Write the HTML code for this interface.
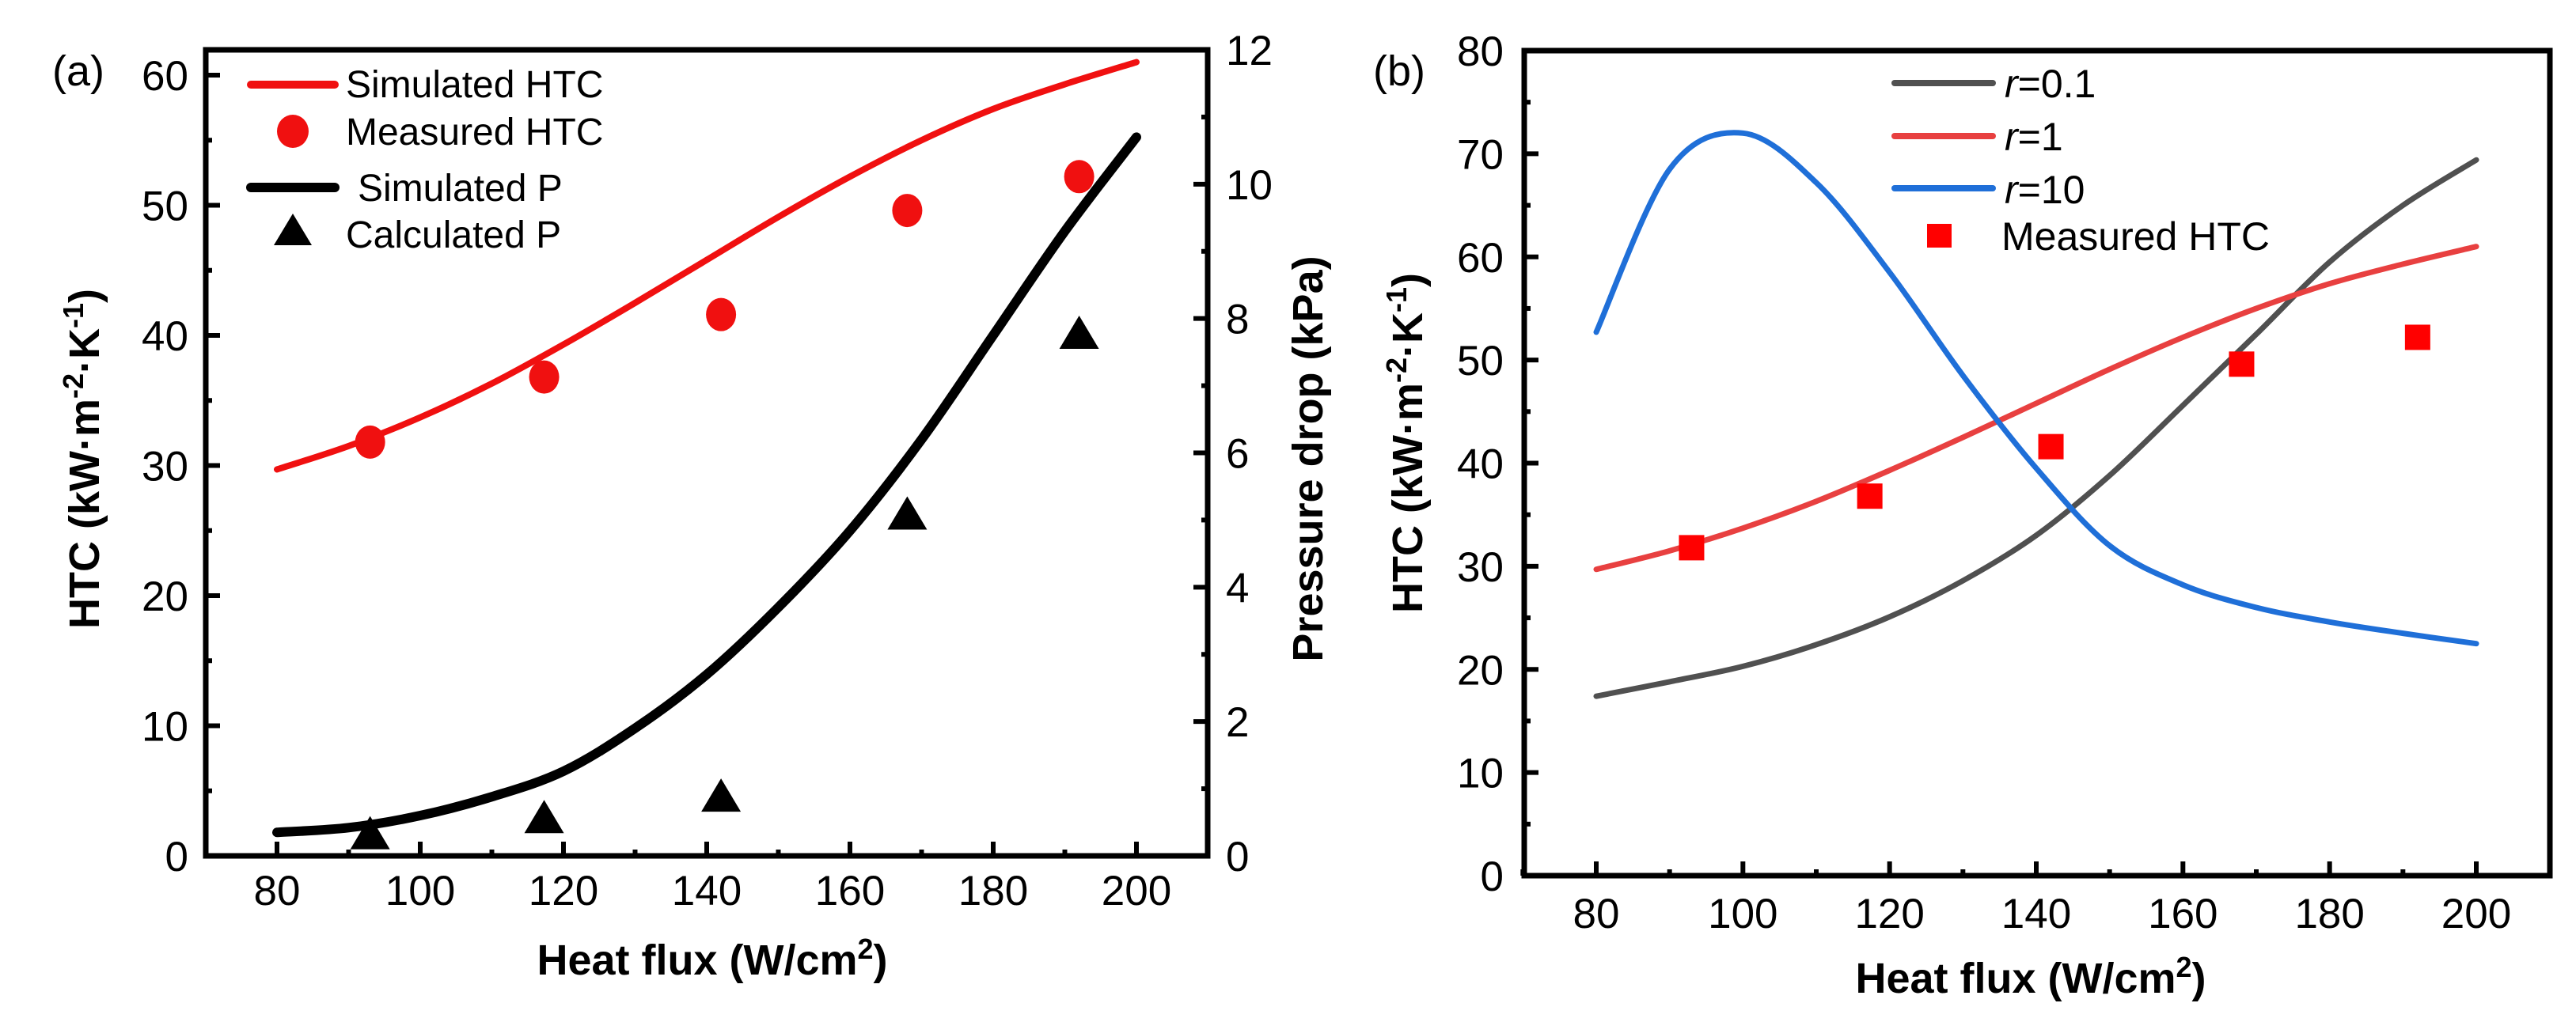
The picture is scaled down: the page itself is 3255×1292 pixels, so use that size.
<!DOCTYPE html>
<html><head><meta charset="utf-8"><style>
html,body{margin:0;padding:0;background:#fff;}
svg{display:block;font-family:"Liberation Sans",Arial,sans-serif;}
</style></head><body>
<svg id="chart" width="3255" height="1292" viewBox="0 0 3255 1292" xmlns="http://www.w3.org/2000/svg">
<g id="pa"></g>
<g id="pb"></g>
</svg>
<script>
// ---- data ----
const xTicks = [80,100,120,140,160,180,200];
const htcTicksA = [0,10,20,30,40,50,60];
const pTicks = [0,2,4,6,8,10,12];
const htcTicksB = [0,10,20,30,40,50,60,70,80];
const lineX = [80,90,100,110,120,130,140,150,160,170,180,190,200];
const simHTC = [29.7,31.5,33.7,36.3,39.3,42.5,45.8,49.1,52.2,55,57.4,59.3,61];
const simP = [0.35,0.42,0.6,0.88,1.26,1.9,2.7,3.7,4.84,6.2,7.75,9.3,10.7];
const measX = [93,117.3,142,168,192];
const measHTC = [31.8,36.8,41.6,49.6,52.2];
const calcP = [0.31,0.55,0.87,5.07,7.76];
const r01 = [17.4,18.8,20.3,22.4,25.1,28.6,33,38.8,45.6,52.5,59.5,65,69.4];
const r10 = [52.7,68.5,72,67.2,58.5,48.5,39.5,32,28.2,26,24.6,23.5,22.5];

const NS="http://www.w3.org/2000/svg";
function el(parent,tag,attrs,text){const e=document.createElementNS(NS,tag);for(const k in attrs)e.setAttribute(k,attrs[k]);if(text!==undefined)e.textContent=text;parent.appendChild(e);return e;}
function smooth(pts){let d=`M${pts[0][0]},${pts[0][1]}`;for(let i=0;i<pts.length-1;i++){const p0=pts[i-1]||pts[i],p1=pts[i],p2=pts[i+1],p3=pts[i+2]||p2;const c1=[p1[0]+(p2[0]-p0[0])/6,p1[1]+(p2[1]-p0[1])/6],c2=[p2[0]-(p3[0]-p1[0])/6,p2[1]-(p3[1]-p1[1])/6];d+=`C${c1[0]},${c1[1]} ${c2[0]},${c2[1]} ${p2[0]},${p2[1]}`;}return d;}

// ---------- Panel A ----------
const A=document.getElementById('pa');
const aL=260,aR=1526,aT=63,aB=1082;
const ax=v=>350+(v-80)*(1436-350)/120;
const ayH=v=>aB-v*16.45;
const ayP=v=>aB-v*(aB-aT)/12;
el(A,'rect',{x:aL,y:aT,width:aR-aL,height:aB-aT,fill:'none',stroke:'#000','stroke-width':7,});
for(let v=70;v<=210;v+=10){const t=el(A,'line',{x1:ax(v),x2:ax(v),y1:aB,y2:aB-(v%20===0?18:8),stroke:'#000','stroke-width':6});
}
xTicks.forEach(v=>{const t=el(A,'text',{x:ax(v),y:1144,'font-size':53,'text-anchor':'middle'},v);
});
for(let v=0;v<=60;v+=5){const t=el(A,'line',{x1:aL,x2:aL+(v%10===0?18:8),y1:ayH(v),y2:ayH(v),stroke:'#000','stroke-width':6});
}
htcTicksA.forEach(v=>{const t=el(A,'text',{x:238,y:ayH(v)+19,'font-size':53,'text-anchor':'end'},v);
});
for(let v=0;v<=12;v+=1){const t=el(A,'line',{x1:aR,x2:aR-(v%2===0?18:8),y1:ayP(v),y2:ayP(v),stroke:'#000','stroke-width':6});
}
pTicks.forEach(v=>{const t=el(A,'text',{x:1549,y:ayP(v)+19,'font-size':53,'text-anchor':'start'},v);
});
let t;
t=el(A,'text',{x:66,y:108,'font-size':54},'(a)');
t=el(A,'text',{x:0,y:0,'font-size':54,'font-weight':'bold','text-anchor':'middle',transform:'translate(125,580) rotate(-90)'});
t.innerHTML='HTC (kW·m<tspan baseline-shift="super" font-size="36">-2</tspan>·K<tspan baseline-shift="super" font-size="36">-1</tspan>)';

t=el(A,'text',{x:0,y:0,'font-size':54,'font-weight':'bold','text-anchor':'middle',transform:'translate(1671,580) rotate(-90)'},'Pressure drop (kPa)');

t=el(A,'text',{x:900,y:1232,'font-size':54,'font-weight':'bold','text-anchor':'middle'});
t.innerHTML='Heat flux (W/cm<tspan baseline-shift="super" font-size="36">2</tspan>)';


t=el(A,'path',{d:smooth(lineX.map((x,i)=>[ax(x),ayH(simHTC[i])])),fill:'none',stroke:'#f01010','stroke-width':8,'stroke-linecap':'round'});

t=el(A,'path',{d:smooth(lineX.map((x,i)=>[ax(x),ayP(simP[i])])),fill:'none',stroke:'#000','stroke-width':12,'stroke-linecap':'round'});

measX.forEach((x,i)=>{const c=el(A,'ellipse',{cx:ax(x),cy:ayH(measHTC[i]),rx:19,ry:21,fill:'#f01010'});
});
measX.forEach((x,i)=>{const X=ax(x),Y=ayP(calcP[i]);const p=el(A,'polygon',{points:`${X},${Y-24} ${X-25},${Y+18} ${X+25},${Y+18}`,fill:'#000'});
});
// legend a
const LA=el(A,'g',{});
el(LA,'line',{x1:317,x2:423,y1:107,y2:107,stroke:'#f01010','stroke-width':10,'stroke-linecap':'round'});
el(LA,'text',{x:437,y:123,'font-size':48},'Simulated HTC');
el(LA,'ellipse',{cx:370,cy:166,rx:20,ry:21,fill:'#f01010'});
el(LA,'text',{x:437,y:183,'font-size':48},'Measured HTC');
el(LA,'line',{x1:317,x2:423,y1:237,y2:237,stroke:'#000','stroke-width':12,'stroke-linecap':'round'});
el(LA,'text',{x:452,y:254,'font-size':48},'Simulated P');
el(LA,'polygon',{points:'370,270 346,310 394,310',fill:'#000'});
el(LA,'text',{x:437,y:313,'font-size':48},'Calculated P');

// ---------- Panel B ----------
const B=document.getElementById('pb');
const bL=1926,bR=3222,bT=64,bB=1107;
const bx=v=>2017+(v-80)*(3129-2017)/120;
const by=v=>bB-v*(bB-bT)/80;
el(B,'rect',{x:bL,y:bT,width:bR-bL,height:bB-bT,fill:'none',stroke:'#000','stroke-width':7,});
for(let v=70;v<=210;v+=10){const k=el(B,'line',{x1:bx(v),x2:bx(v),y1:bB,y2:bB-(v%20===0?18:8),stroke:'#000','stroke-width':6});
}
xTicks.forEach(v=>{const k=el(B,'text',{x:bx(v),y:1173,'font-size':53,'text-anchor':'middle'},v);
});
for(let v=0;v<=80;v+=5){const k=el(B,'line',{x1:bL,x2:bL+(v%10===0?18:8),y1:by(v),y2:by(v),stroke:'#000','stroke-width':6});
}
htcTicksB.forEach(v=>{const k=el(B,'text',{x:1900,y:by(v)+19,'font-size':53,'text-anchor':'end'},v);
});
t=el(B,'text',{x:1735,y:108,'font-size':54},'(b)');
t=el(B,'text',{x:0,y:0,'font-size':54,'font-weight':'bold','text-anchor':'middle',transform:'translate(1797,560) rotate(-90)'});
t.innerHTML='HTC (kW·m<tspan baseline-shift="super" font-size="36">-2</tspan>·K<tspan baseline-shift="super" font-size="36">-1</tspan>)';

t=el(B,'text',{x:2566,y:1255,'font-size':54,'font-weight':'bold','text-anchor':'middle'});
t.innerHTML='Heat flux (W/cm<tspan baseline-shift="super" font-size="36">2</tspan>)';


t=el(B,'path',{d:smooth(lineX.map((x,i)=>[bx(x),by(r01[i])])),fill:'none',stroke:'#505050','stroke-width':7,'stroke-linecap':'round'});

t=el(B,'path',{d:smooth(lineX.map((x,i)=>[bx(x),by(simHTC[i])])),fill:'none',stroke:'#e84040','stroke-width':7,'stroke-linecap':'round'});

t=el(B,'path',{d:smooth(lineX.map((x,i)=>[bx(x),by(r10[i])])),fill:'none',stroke:'#1f6fd8','stroke-width':7,'stroke-linecap':'round'});

measX.forEach((x,i)=>{const s=el(B,'rect',{x:bx(x)-16,y:by(measHTC[i])-16,width:32,height:32,fill:'#f00'});
});
const LB=el(B,'g',{});
el(LB,'line',{x1:2394,x2:2518,y1:105,y2:105,stroke:'#505050','stroke-width':8,'stroke-linecap':'round'});
el(LB,'text',{x:2533,y:123,'font-size':50},'').innerHTML='<tspan font-style="italic">r</tspan>=0.1';
el(LB,'line',{x1:2394,x2:2518,y1:172,y2:172,stroke:'#e84040','stroke-width':8,'stroke-linecap':'round'});
el(LB,'text',{x:2533,y:190,'font-size':50},'').innerHTML='<tspan font-style="italic">r</tspan>=1';
el(LB,'line',{x1:2394,x2:2518,y1:238,y2:238,stroke:'#1f6fd8','stroke-width':8,'stroke-linecap':'round'});
el(LB,'text',{x:2533,y:257,'font-size':50},'').innerHTML='<tspan font-style="italic">r</tspan>=10';
el(LB,'rect',{x:2435,y:283,width:31,height:30,fill:'#f00'});
el(LB,'text',{x:2529,y:316,'font-size':50},'Measured HTC');
</script>
</body></html>
